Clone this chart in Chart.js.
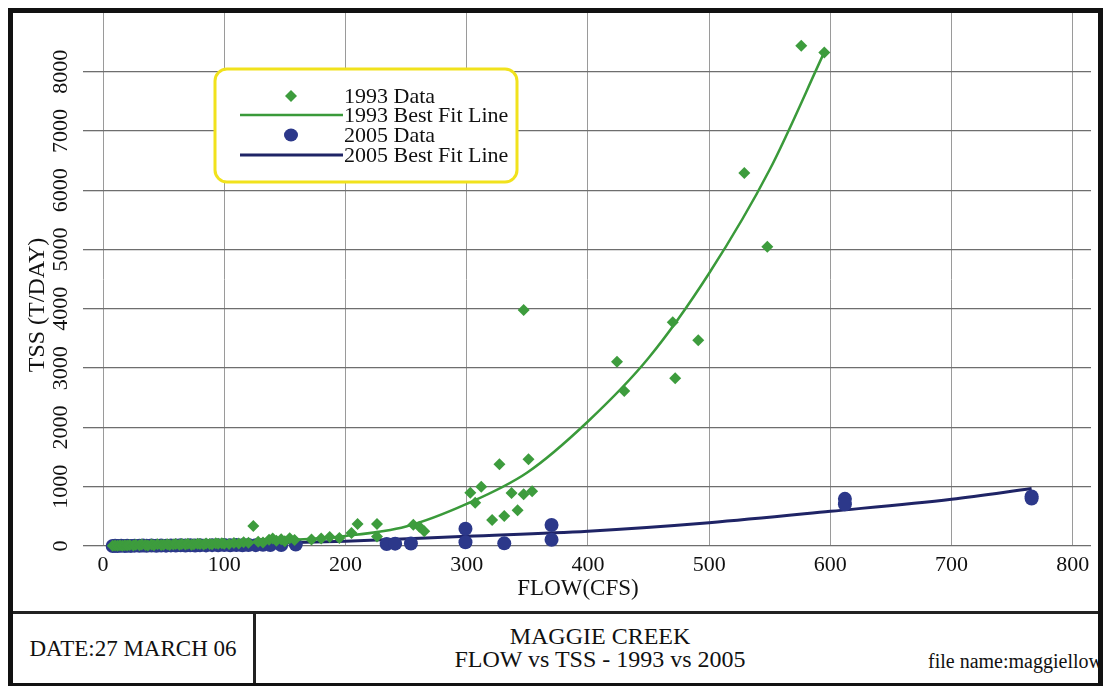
<!DOCTYPE html>
<html>
<head>
<meta charset="utf-8">
<script src="https://cdn.jsdelivr.net/npm/chart.js@4.4.1/dist/chart.umd.min.js"></script>
<style>
  html, body { margin: 0; padding: 0; background: #fff; }
  body { width: 1110px; height: 686px; position: relative; overflow: hidden;
         font-family: "Liberation Serif", "Times New Roman", serif; color: #111; }
  #frame { position: absolute; left: 8px; top: 8px; width: 1095px; height: 678px;
           border: 5px solid #111; border-bottom: 3px solid #111; box-sizing: border-box; }
  #chart { position: absolute; left: 13px; top: 13px; }
  #divider { position: absolute; left: 13px; top: 611px; width: 1085px; height: 3px; background: #222; }
  #vdiv { position: absolute; left: 253px; top: 614px; width: 3px; height: 69px; background: #222; }
  .cell { position: absolute; white-space: nowrap; }
  #date { left: 13px; top: 614px; width: 240px; height: 69px; line-height: 69px; text-align: center; font-size: 23px; }
  #title { left: 236px; top: 625px; width: 728px; text-align: center; font-size: 24px; line-height: 23px; }
  #file { left: 928px; top: 649px; width: 170px; overflow: hidden; font-size: 20px; line-height: 24px; }
</style>
</head>
<body>
<div id="frame"></div>
<canvas id="chart" width="1085" height="598"></canvas>
<div id="divider"></div>
<div id="vdiv"></div>
<div class="cell" id="date">DATE:27 MARCH 06</div>
<div class="cell" id="title">MAGGIE CREEK<br>FLOW vs TSS - 1993 vs 2005</div>
<div class="cell" id="file">file name:maggiellow</div>
<script>
// 1993 measured points (flow cfs, tss t/day)
const flow1993 = [8, 10, 12, 14, 16, 18, 20, 22, 25, 27, 30, 32, 35, 37, 40, 42, 45, 48, 50, 53,
  55, 58, 60, 63, 65, 68, 70, 73, 75, 78, 80, 83, 85, 88, 90, 93, 95, 98, 100, 104,
  108, 112, 116, 120, 124, 128, 132, 137, 140, 143, 147, 150, 154, 158, 172, 180, 187, 195, 205, 210,
  226, 226, 256, 261, 265, 303, 307, 312, 321, 327, 331, 337, 342, 347, 347, 351, 354, 424, 430, 470,
  472, 491, 529, 548, 576, 595];
const tss1993 = [5, 10, 4, 12, 6, 14, 8, 18, 10, 22, 12, 26, 16, 10, 24, 14, 28, 18, 22, 30,
  16, 26, 32, 20, 34, 26, 38, 22, 30, 40, 32, 24, 42, 34, 28, 46, 36, 48, 40, 32,
  52, 44, 62, 55, 337, 72, 58, 105, 125, 88, 112, 80, 130, 100, 110, 125, 150, 135, 220, 370,
  372, 162, 360, 326, 248, 900, 731, 1000, 438, 1377, 508, 893, 605, 874, 3980, 1462, 925, 3108, 2614, 3772,
  2828, 3469, 6290, 5047, 8437, 8325];

// 2005 measured points
const flow2005 = [8, 10, 12, 15, 18, 20, 23, 26, 30, 33, 36, 40, 44, 48, 52, 56, 60, 64, 68, 72,
  76, 80, 85, 90, 95, 100, 105, 110, 115, 120, 126, 132, 138, 147, 159, 234, 241, 254, 299, 299,
  331, 370, 370, 612, 612, 766, 766];
const tss2005 = [0, 3, 1, 4, 2, 5, 2, 6, 3, 7, 4, 8, 5, 9, 6, 10, 7, 11, 8, 12,
  9, 13, 10, 14, 11, 15, 12, 16, 13, 18, 14, 20, 16, 18, 25, 32, 40, 42, 290, 62,
  45, 354, 105, 795, 705, 835, 800];

// best fit curves
const fitFlow1993 = [5, 50, 100, 150, 200, 250, 300, 350, 400, 450, 500, 550, 595];
const fitTss1993 = [2, 15, 40, 95, 170, 330, 710, 1240, 2100, 3170, 4600, 6350, 8330];
const fitFlow2005 = [5, 50, 100, 200, 300, 400, 500, 600, 700, 766];
const fitTss2005 = [2, 10, 28, 80, 165, 250, 393, 585, 790, 970];

const xTicks = [0, 100, 200, 300, 400, 500, 600, 700, 800];
const yTicks = [0, 1000, 2000, 3000, 4000, 5000, 6000, 7000, 8000];

const GREEN = '#3d9c3d';
const GREEN_LINE = '#3a9a3a';
const NAVY = '#2c388a';
const NAVY_LINE = '#1f2466';
const FONT = '"Liberation Serif", "Times New Roman", serif';

function pts(xs, ys) { return xs.map((x, i) => ({ x: x, y: ys[i] })); }

function roundRect(ctx, x, y, w, h, r) {
  ctx.beginPath();
  ctx.moveTo(x + r, y);
  ctx.arcTo(x + w, y, x + w, y + h, r);
  ctx.arcTo(x + w, y + h, x, y + h, r);
  ctx.arcTo(x, y + h, x, y, r);
  ctx.arcTo(x, y, x + w, y, r);
  ctx.closePath();
}

// legend box inside the plot + axis titles
const extras = {
  id: 'extras',
  afterDatasetsDraw(chart) {
    const ctx = chart.ctx;
    const ds = chart.data.datasets;
    ctx.save();
    roundRect(ctx, 202, 56, 302, 113, 12);
    ctx.fillStyle = '#fff';
    ctx.fill();
    ctx.lineWidth = 3;
    ctx.strokeStyle = '#f1e21c';
    ctx.stroke();

    const rows = [83, 102, 122, 142];
    ctx.font = '22px ' + FONT;
    ctx.textBaseline = 'middle';
    ctx.textAlign = 'left';
    ds.forEach((d, i) => {
      const y = rows[i];
      if (d.showLine) {
        ctx.beginPath();
        ctx.moveTo(227, y);
        ctx.lineTo(330, y);
        ctx.lineWidth = d.borderWidth;
        ctx.strokeStyle = d.borderColor;
        ctx.stroke();
      } else if (d.pointStyle === 'rectRot') {
        ctx.beginPath();
        ctx.moveTo(278, y - 6); ctx.lineTo(284, y); ctx.lineTo(278, y + 6); ctx.lineTo(272, y);
        ctx.closePath();
        ctx.fillStyle = d.backgroundColor;
        ctx.fill();
      } else {
        ctx.beginPath();
        ctx.ellipse(278, y, 7, 6.5, 0, 0, Math.PI * 2);
        ctx.fillStyle = d.backgroundColor;
        ctx.fill();
      }
      ctx.fillStyle = '#111';
      ctx.fillText(d.label, 331, y + 1);
    });

    ctx.fillStyle = '#111';
    ctx.font = '23px ' + FONT;
    ctx.textAlign = 'center';
    ctx.fillText('FLOW(CFS)', 565, 576);
    ctx.font = '24px ' + FONT;
    ctx.translate(25, 292);
    ctx.rotate(-Math.PI / 2);
    ctx.fillText('TSS (T/DAY)', 0, 0);
    ctx.restore();
  }
};

new Chart(document.getElementById('chart'), {
  type: 'scatter',
  data: {
    datasets: [
      {
        label: '1993 Data',
        data: pts(flow1993, tss1993),
        pointStyle: 'rectRot',
        pointRadius: 6,
        backgroundColor: GREEN,
        borderColor: GREEN,
        borderWidth: 0,
        clip: false
      },
      {
        label: '1993 Best Fit Line',
        data: pts(fitFlow1993, fitTss1993),
        showLine: true,
        pointRadius: 0,
        borderColor: GREEN_LINE,
        borderWidth: 2.5,
        cubicInterpolationMode: 'monotone',
        clip: false
      },
      {
        label: '2005 Data',
        data: pts(flow2005, tss2005),
        pointStyle: 'circle',
        pointRadius: 7,
        backgroundColor: NAVY,
        borderColor: NAVY,
        borderWidth: 0,
        clip: false
      },
      {
        label: '2005 Best Fit Line',
        data: pts(fitFlow2005, fitTss2005),
        showLine: true,
        pointRadius: 0,
        borderColor: NAVY_LINE,
        borderWidth: 3,
        cubicInterpolationMode: 'monotone',
        clip: false
      }
    ]
  },
  options: {
    responsive: false,
    animation: false,
    events: [],
    layout: { autoPadding: false, padding: { top: 0, right: 7, bottom: 0, left: 0 } },
    plugins: {
      legend: { display: false },
      tooltip: { enabled: false }
    },
    scales: {
      x: {
        type: 'linear',
        min: 0,
        max: 815,
        afterBuildTicks: a => { a.ticks = xTicks.map(v => ({ value: v })); },
        afterFit: a => { a.height = 65; a.paddingLeft = 0; a.paddingRight = 0; },
        border: { display: false },
        grid: { color: '#9a9a9a', lineWidth: 1, drawTicks: false },
        ticks: { color: '#111', padding: 6, font: { family: FONT, size: 22 } }
      },
      y: {
        type: 'linear',
        min: 0,
        max: 8990,
        afterBuildTicks: a => { a.ticks = yTicks.map(v => ({ value: v })); },
        afterFit: a => { a.width = 90; a.paddingTop = 0; a.paddingBottom = 0; },
        border: { display: false },
        grid: { color: '#6e6e6e', lineWidth: 1.3, tickLength: 20 },
        ticks: {
          color: '#111', padding: 0, minRotation: 90, maxRotation: 90,
          crossAlign: 'center', font: { family: FONT, size: 22 },
          callback: v => String(v)
        }
      }
    }
  },
  plugins: [extras]
});
</script>
</body>
</html>
